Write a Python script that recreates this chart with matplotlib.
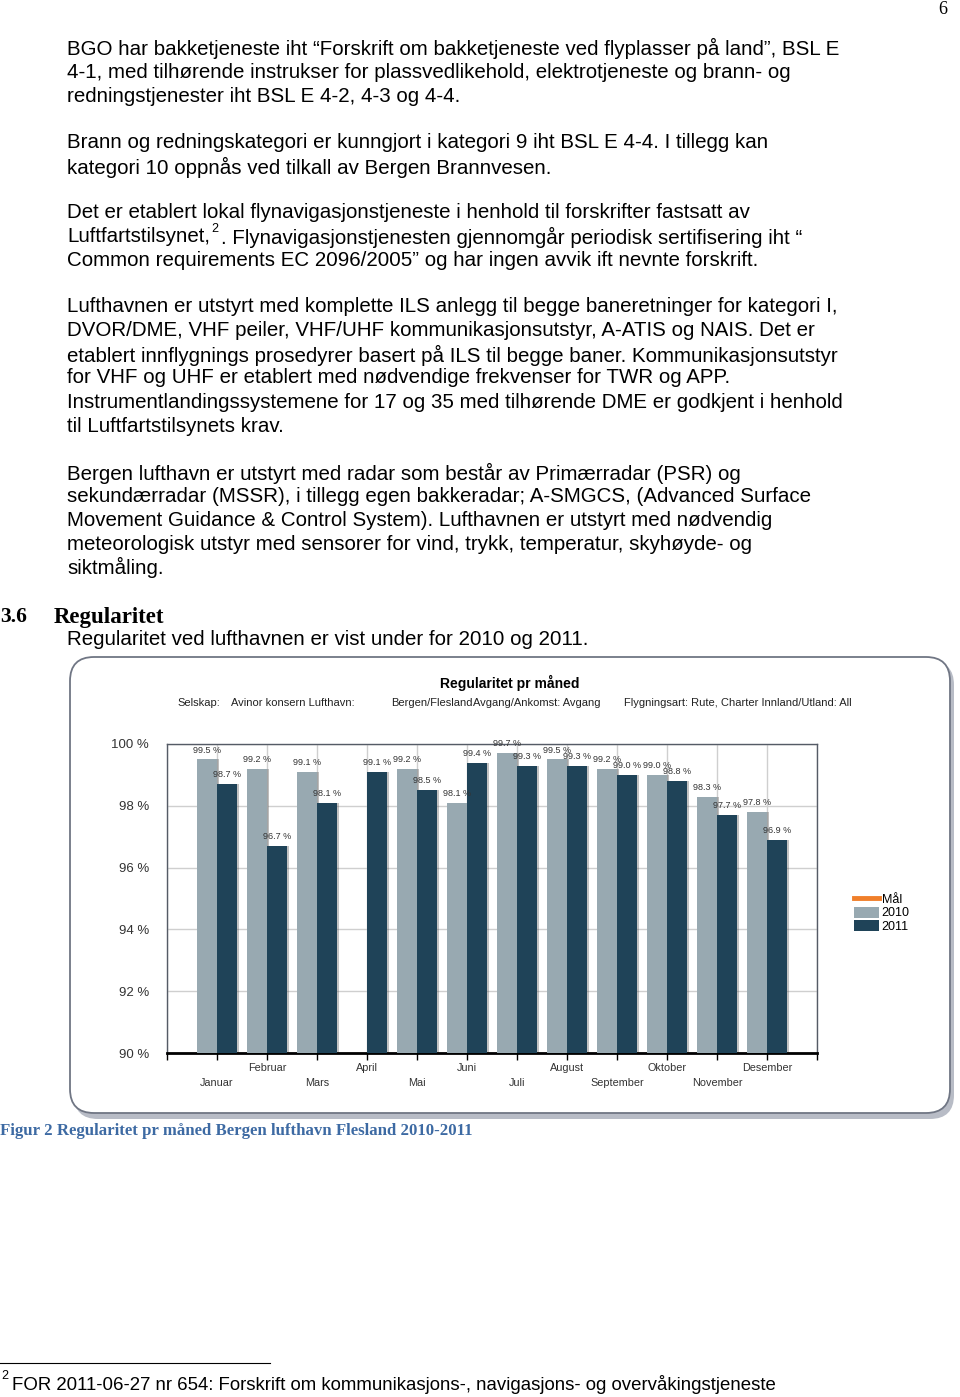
import numpy as np
import matplotlib
matplotlib.use("Agg")
import matplotlib.pyplot as plt
from matplotlib.patches import FancyBboxPatch, Rectangle
from matplotlib.lines import Line2D

# chart data
months = ["Januar", "Februar", "Mars", "April", "Mai", "Juni", "Juli",
          "August", "September", "Oktober", "November", "Desember"]
reg_2010 = [99.5, 99.2, 99.1, np.nan, 99.2, 98.1, 99.7, 99.5, 99.2, 99.0, 98.3, 97.8]
reg_2011 = [98.7, 96.7, 98.1, 99.1, 98.5, 99.4, 99.3, 99.3, 99.0, 98.8, 97.7, 96.9]
y_ticks = [90, 92, 94, 96, 98, 100]

# page text
para_lines = [
    (48, "BGO har bakketjeneste iht “Forskrift om bakketjeneste ved flyplasser på land”, BSL E"),
    (72, "4-1, med tilhørende instrukser for plassvedlikehold, elektrotjeneste og brann- og"),
    (96, "redningstjenester iht BSL E 4-2, 4-3 og 4-4."),
    (143, "Brann og redningskategori er kunngjort i kategori 9 iht BSL E 4-4. I tillegg kan"),
    (167, "kategori 10 oppnås ved tilkall av Bergen Brannvesen."),
    (213, "Det er etablert lokal flynavigasjonstjeneste i henhold til forskrifter fastsatt av"),
    (261, "Common requirements EC 2096/2005” og har ingen avvik ift nevnte forskrift."),
    (307, "Lufthavnen er utstyrt med komplette ILS anlegg til begge baneretninger for kategori I,"),
    (331, "DVOR/DME, VHF peiler, VHF/UHF kommunikasjonsutstyr, A-ATIS og NAIS. Det er"),
    (355, "etablert innflygnings prosedyrer basert på ILS til begge baner. Kommunikasjonsutstyr"),
    (378, "for VHF og UHF er etablert med nødvendige frekvenser for TWR og APP."),
    (402, "Instrumentlandingssystemene for 17 og 35 med tilhørende DME er godkjent i henhold"),
    (426, "til Luftfartstilsynets krav."),
    (473, "Bergen lufthavn er utstyrt med radar som består av Primærradar (PSR) og"),
    (496, "sekundærradar (MSSR), i tillegg egen bakkeradar; A-SMGCS, (Advanced Surface"),
    (520, "Movement Guidance & Control System). Lufthavnen er utstyrt med nødvendig"),
    (544, "meteorologisk utstyr med sensorer for vind, trykk, temperatur, skyhøyde- og"),
    (567, "siktmåling."),
    (640, "Regularitet ved lufthavnen er vist under for 2010 og 2011."),
]

W, H = 960, 1397
fig = plt.figure(figsize=(W / 100, H / 100), dpi=100)
fig.patch.set_facecolor("white")

def fx(x):
    return x / W

def fy(y):
    return 1 - y / H

sans = "Liberation Sans"
serif = "Liberation Serif"
body = 14.8

for y, s in para_lines:
    fig.text(fx(67), fy(y), s, fontsize=body, family=sans, va="center", color="black")

# line with superscript footnote mark
renderer = fig.canvas.get_renderer()
t = fig.text(fx(67), fy(237), "Luftfartstilsynet,", fontsize=body, family=sans, va="center")
x_end = t.get_window_extent(renderer).x1
fig.text(x_end / W + 0.001, fy(229), "2", fontsize=9, family=sans, va="center")
fig.text(x_end / W + 0.011, fy(237),
         ". Flynavigasjonstjenesten gjennomgår periodisk sertifisering iht “",
         fontsize=body, family=sans, va="center")

# page number and heading
fig.text(fx(938), fy(9), "6", fontsize=13, family=serif, va="center")
fig.text(fx(0), fy(617), "3.6", fontsize=15.5, family=serif, weight="bold", va="center")
fig.text(fx(54), fy(617), "Regularitet", fontsize=16.5, family=serif, weight="bold", va="center")

# chart frame with shadow
fig.patches.append(FancyBboxPatch((fx(74), fy(1119)), fx(880), (1119 - 661) / H,
                                  boxstyle="round,pad=0,rounding_size=0.025",
                                  transform=fig.transFigure, facecolor="#b8bcc6",
                                  edgecolor="none", zorder=0, mutation_aspect=W / H))
fig.patches.append(FancyBboxPatch((fx(70), fy(1113)), fx(880), (1113 - 657) / H,
                                  boxstyle="round,pad=0,rounding_size=0.025",
                                  transform=fig.transFigure, facecolor="white",
                                  edgecolor="#707684", linewidth=1.3, zorder=1,
                                  mutation_aspect=W / H))

fig.text(fx(510), fy(683), "Regularitet pr måned", fontsize=10, weight="bold",
         family=sans, ha="center", va="center", zorder=3)
sub = [(177, "Selskap:"), (231, "Avinor konsern Lufthavn:"), (391, "Bergen/Flesland"),
       (473, "Avgang/Ankomst: Avgang"), (624, "Flygningsart: Rute, Charter Innland/Utland: All")]
for x, s in sub:
    fig.text(fx(x), fy(703), s, fontsize=8.0, family=sans, va="center", color="#222222",
             zorder=3)

# bar chart
ax = fig.add_axes([fx(167), fy(1053), fx(650), (1053 - 744) / H], zorder=2)
x = np.arange(len(months))
w = 0.4
c2010 = "#98a9b1"
c2011 = "#1f4358"
ax.bar(x - w + 0.03, reg_2010, w, align="edge", color="#555555", alpha=0.35, zorder=2)
ax.bar(x + 0.03, reg_2011, w, align="edge", color="#555555", alpha=0.35, zorder=2)
ax.bar(x - w, reg_2010, w, align="edge", color=c2010, zorder=3)
ax.bar(x, reg_2011, w, align="edge", color=c2011, zorder=3)

for i in range(len(months)):
    if not np.isnan(reg_2010[i]):
        ax.text(x[i] - w / 2, reg_2010[i] + 0.16, f"{reg_2010[i]:.1f} %", ha="center",
                va="bottom", fontsize=6.5, family=sans, color="#333333", zorder=5)
    ax.text(x[i] + w / 2, reg_2011[i] + 0.16, f"{reg_2011[i]:.1f} %", ha="center",
            va="bottom", fontsize=6.5, family=sans, color="#333333", zorder=5)

ax.set_xlim(-1, 12)
ax.set_ylim(90, 100)
ax.set_yticks(y_ticks)
ax.set_yticklabels([f"{v} %" for v in y_ticks], fontsize=9.5, family=sans, color="#333333")
ax.tick_params(axis="y", length=0, pad=13)
ax.set_xticks(np.arange(-1, 13))
ax.set_xticklabels([])
ax.tick_params(axis="x", length=5, width=1, color="black", direction="out")
ax.grid(True, color="#cfcfcf", linewidth=1, zorder=0)
ax.set_axisbelow(True)
for side in ["top", "right", "left"]:
    ax.spines[side].set_color("#555b66")
    ax.spines[side].set_linewidth(1)
ax.spines["bottom"].set_color("black")
ax.spines["bottom"].set_linewidth(2)

for i, m in enumerate(months):
    ypx = 1068 if i % 2 == 1 else 1083
    fig.text(fx(217 + 50 * i), fy(ypx), m, fontsize=7.8, family=sans, ha="center",
             va="center", color="#333333", zorder=3)

# legend
handles = [Line2D([0], [0], color="#f07f2a", linewidth=3.5),
           Rectangle((0, 0), 1, 1, facecolor=c2010),
           Rectangle((0, 0), 1, 1, facecolor=c2011)]
leg = fig.legend(handles, ["Mål", "2010", "2011"], loc="center left",
                 bbox_to_anchor=(fx(843), fy(913)), frameon=False,
                 handlelength=2.0, handleheight=1.0, handletextpad=0.2, labelspacing=0.05,
                 prop={"family": sans, "size": 9})
leg.set_zorder(4)

# caption and footnote
fig.text(fx(0), fy(1131), "Figur 2 Regularitet pr måned Bergen lufthavn Flesland 2010-2011",
         fontsize=12.1, family=serif, weight="bold", color="#3d6aa3", va="center")
fig.add_artist(Line2D([0, fx(270)], [fy(1363), fy(1363)], color="black", linewidth=0.8,
                      transform=fig.transFigure))
fig.text(fx(1), fy(1376), "2", fontsize=9, family=sans, va="center")
fig.text(fx(12), fy(1384),
         "FOR 2011-06-27 nr 654: Forskrift om kommunikasjons-, navigasjons- og overvåkingstjeneste",
         fontsize=13.4, family=sans, va="center")

fig.savefig("out.png", dpi=100)
